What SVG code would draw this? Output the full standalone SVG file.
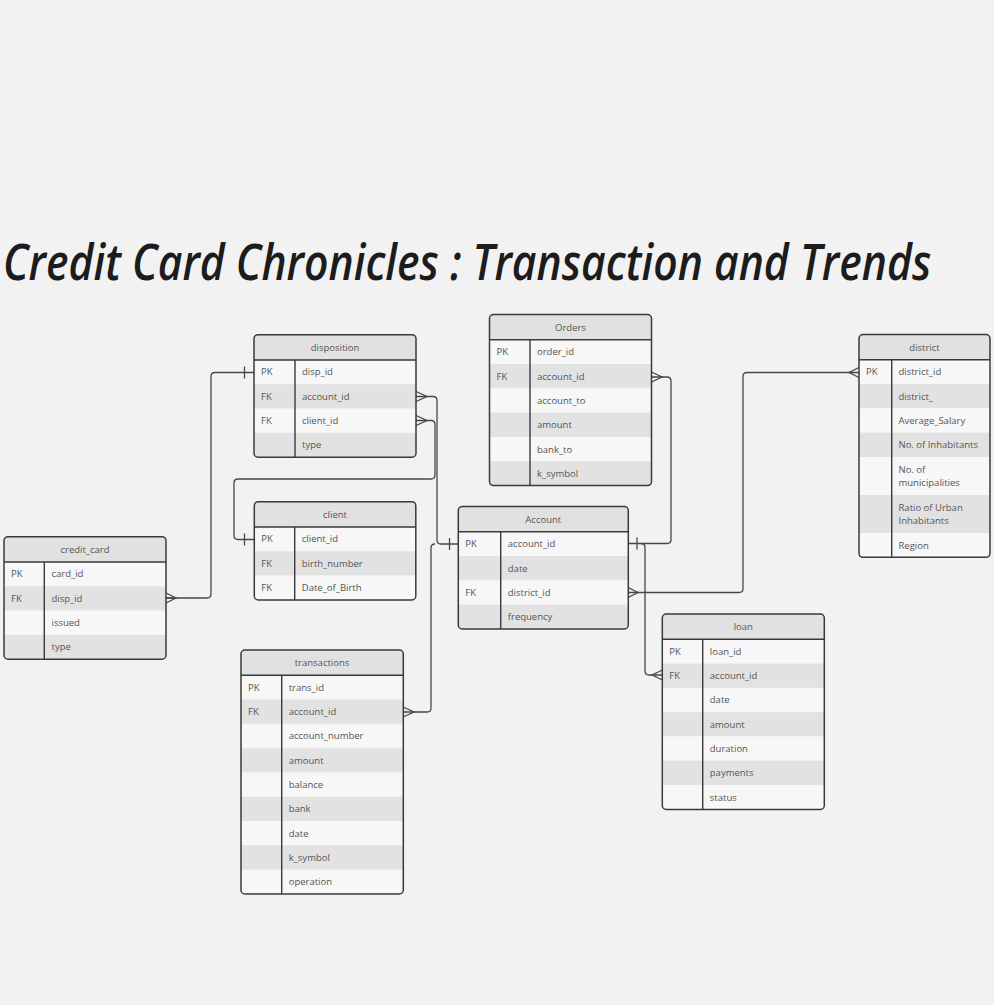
<svg xmlns="http://www.w3.org/2000/svg" width="994" height="1005" viewBox="0 0 994 1005">
<style>
.hd{fill:#e1e1e1}
.r1{fill:#f7f7f7}
.r2{fill:#e2e2e2}
.bd{fill:none;stroke:#3a3a3a;stroke-width:1.5}
.ln{stroke:#3a3a3a;stroke-width:1.4;fill:none}
.t{font-family:"Open Sans",sans-serif;font-size:9.5px;fill:#555}
.h{font-family:"Open Sans",sans-serif;font-size:9.5px;fill:#555;text-anchor:middle}
.c{fill:none;stroke:#474747;stroke-width:1.3}
.title{font-family:"Open Sans",sans-serif;font-style:italic;font-weight:600;font-size:50px;fill:#1c1c1c}
</style>
<defs>
<clipPath id="k1" clipPathUnits="userSpaceOnUse"><rect x="0" y="0" width="162" height="122.5" rx="4"/></clipPath>
<clipPath id="k2" clipPathUnits="userSpaceOnUse"><rect x="0" y="0" width="162" height="171.1" rx="4"/></clipPath>
<clipPath id="k3" clipPathUnits="userSpaceOnUse"><rect x="0" y="0" width="131" height="222.8" rx="4"/></clipPath>
<clipPath id="k4" clipPathUnits="userSpaceOnUse"><rect x="0" y="0" width="161.5" height="98.2" rx="4"/></clipPath>
<clipPath id="k5" clipPathUnits="userSpaceOnUse"><rect x="0" y="0" width="170" height="122.5" rx="4"/></clipPath>
<clipPath id="k6" clipPathUnits="userSpaceOnUse"><rect x="0" y="0" width="162.3" height="244" rx="4"/></clipPath>
<clipPath id="k7" clipPathUnits="userSpaceOnUse"><rect x="0" y="0" width="162" height="195.4" rx="4"/></clipPath>
</defs>
<rect x="0" y="0" width="994" height="1005" fill="#f2f2f2"/>
<text class="title" transform="translate(3,280) scale(0.78,1)" x="0" y="0" textLength="1190" lengthAdjust="spacingAndGlyphs">Credit Card Chronicles : Transaction and Trends</text>

<g id="connectors">
<path class="c" d="M254,372.5 H215 Q211,372.5 211,376.5 V594 Q211,598 207,598 H166"/>
<path class="c" d="M244.5,366.5 V378.5"/>
<path class="c" d="M166,593 L176,598 L166,603 M166,598 H176"/>

<path class="c" d="M416,396.5 H433 Q437,396.5 437,400.5 V540 Q437,544 441,544 H458"/>
<path class="c" d="M416,391.5 L427,396.5 L416,401.5"/>

<path class="c" d="M416,420.5 H431 Q435,420.5 435,424.5 V475 Q435,479 431,479 H238 Q234,479 234,483 V535.5 Q234,539.5 238,539.5 H254"/>
<path class="c" d="M416,415.5 L427,420.5 L416,425.5"/>
<path class="c" d="M244.5,533.5 V545.5"/>

<path class="c" d="M403,712 H427 Q431,712 431,708 V548 Q431,544 435,544"/>
<path class="c" d="M403,707 L414,712 L403,717"/>
<path class="c" d="M449.5,538 V550"/>

<path class="c" d="M651.5,377 H667 Q671,377 671,381 V539.5 Q671,543.5 667,543.5 H628"/>
<path class="c" d="M651.5,372 L662,377 L651.5,382"/>
<path class="c" d="M637,537.5 V549.5"/>

<path class="c" d="M641,543.5 Q645,543.5 645,547.5 V671 Q645,675 649,675 H662.5"/>
<path class="c" d="M662.5,670 L652,675 L662.5,680"/>

<path class="c" d="M628,592.5 H739 Q743,592.5 743,588.5 V376.5 Q743,372.5 747,372.5 H859"/>
<path class="c" d="M628,587.5 L638,592.5 L628,597.5"/>
<path class="c" d="M859,367.5 L849,372.5 L859,377.5"/>
</g>

<g id="disposition" transform="translate(254,334.7)">
<g clip-path="url(#k1)">
<rect class="hd" x="0" y="0" width="162" height="25.3"/>
<rect class="r1" x="0" y="25.3" width="162" height="24.3"/>
<rect class="r2" x="0" y="49.6" width="162" height="24.3"/>
<rect class="r1" x="0" y="73.9" width="162" height="24.3"/>
<rect class="r2" x="0" y="98.2" width="162" height="24.3"/>
</g>
<path class="ln" d="M0,25.3 H162 M41,25.3 V122.5"/>
<rect class="bd" x="0" y="0" width="162" height="122.5" rx="4"/>
<text class="h" x="81" y="16">disposition</text>
<text class="t" x="7" y="40.8">PK</text><text class="t" x="48" y="40.8">disp_id</text>
<text class="t" x="7" y="65.1">FK</text><text class="t" x="48" y="65.1">account_id</text>
<text class="t" x="7" y="89.4">FK</text><text class="t" x="48" y="89.4">client_id</text>
<text class="t" x="48" y="113.7">type</text>
</g>

<g id="orders" transform="translate(489.5,314.5)">
<g clip-path="url(#k2)">
<rect class="hd" x="0" y="0" width="162" height="25.3"/>
<rect class="r1" x="0" y="25.3" width="162" height="24.3"/>
<rect class="r2" x="0" y="49.6" width="162" height="24.3"/>
<rect class="r1" x="0" y="73.9" width="162" height="24.3"/>
<rect class="r2" x="0" y="98.2" width="162" height="24.3"/>
<rect class="r1" x="0" y="122.5" width="162" height="24.3"/>
<rect class="r2" x="0" y="146.8" width="162" height="24.3"/>
</g>
<path class="ln" d="M0,25.3 H162 M40.5,25.3 V171.1"/>
<rect class="bd" x="0" y="0" width="162" height="171.1" rx="4"/>
<text class="h" x="81" y="16">Orders</text>
<text class="t" x="7" y="40.8">PK</text><text class="t" x="47.5" y="40.8">order_id</text>
<text class="t" x="7" y="65.1">FK</text><text class="t" x="47.5" y="65.1">account_id</text>
<text class="t" x="47.5" y="89.4">account_to</text>
<text class="t" x="47.5" y="113.7">amount</text>
<text class="t" x="47.5" y="138">bank_to</text>
<text class="t" x="47.5" y="162.3">k_symbol</text>
</g>

<g id="district" transform="translate(859,334.5)">
<g clip-path="url(#k3)">
<rect class="hd" x="0" y="0" width="131" height="25.3"/>
<rect class="r1" x="0" y="25.3" width="131" height="24.3"/>
<rect class="r2" x="0" y="49.6" width="131" height="24.3"/>
<rect class="r1" x="0" y="73.9" width="131" height="24.3"/>
<rect class="r2" x="0" y="98.2" width="131" height="24.3"/>
<rect class="r1" x="0" y="122.5" width="131" height="38"/>
<rect class="r2" x="0" y="160.5" width="131" height="38"/>
<rect class="r1" x="0" y="198.5" width="131" height="24.3"/>
</g>
<path class="ln" d="M0,25.3 H131 M32.7,25.3 V222.8"/>
<rect class="bd" x="0" y="0" width="131" height="222.8" rx="4"/>
<text class="h" x="65.5" y="16">district</text>
<text class="t" x="7" y="40.8">PK</text><text class="t" x="39.5" y="40.8">district_id</text>
<text class="t" x="39.5" y="65.1">district_</text>
<text class="t" x="39.5" y="89.4">Average_Salary</text>
<text class="t" x="39.5" y="113.7">No. of Inhabitants</text>
<text class="t" x="39.5" y="138.4">No. of</text>
<text class="t" x="39.5" y="151.4">municipalities</text>
<text class="t" x="39.5" y="176.4">Ratio of Urban</text>
<text class="t" x="39.5" y="189.4">Inhabitants</text>
<text class="t" x="39.5" y="214">Region</text>
</g>

<g id="credit_card" transform="translate(4,536.7)">
<g clip-path="url(#k1)">
<rect class="hd" x="0" y="0" width="162" height="25.3"/>
<rect class="r1" x="0" y="25.3" width="162" height="24.3"/>
<rect class="r2" x="0" y="49.6" width="162" height="24.3"/>
<rect class="r1" x="0" y="73.9" width="162" height="24.3"/>
<rect class="r2" x="0" y="98.2" width="162" height="24.3"/>
</g>
<path class="ln" d="M0,25.3 H162 M40.3,25.3 V122.5"/>
<rect class="bd" x="0" y="0" width="162" height="122.5" rx="4"/>
<text class="h" x="81" y="16">credit_card</text>
<text class="t" x="7" y="40.8">PK</text><text class="t" x="47.5" y="40.8">card_id</text>
<text class="t" x="7" y="65.1">FK</text><text class="t" x="47.5" y="65.1">disp_id</text>
<text class="t" x="47.5" y="89.4">issued</text>
<text class="t" x="47.5" y="113.7">type</text>
</g>

<g id="client" transform="translate(254.3,501.7)">
<g clip-path="url(#k4)">
<rect class="hd" x="0" y="0" width="161.5" height="25.3"/>
<rect class="r1" x="0" y="25.3" width="161.5" height="24.3"/>
<rect class="r2" x="0" y="49.6" width="161.5" height="24.3"/>
<rect class="r1" x="0" y="73.9" width="161.5" height="24.3"/>
</g>
<path class="ln" d="M0,25.3 H161.5 M40.4,25.3 V98.2"/>
<rect class="bd" x="0" y="0" width="161.5" height="98.2" rx="4"/>
<text class="h" x="80.7" y="16">client</text>
<text class="t" x="7" y="40.8">PK</text><text class="t" x="47.5" y="40.8">client_id</text>
<text class="t" x="7" y="65.1">FK</text><text class="t" x="47.5" y="65.1">birth_number</text>
<text class="t" x="7" y="89.4">FK</text><text class="t" x="47.5" y="89.4">Date_of_Birth</text>
</g>

<g id="account" transform="translate(458.3,506.5)">
<g clip-path="url(#k5)">
<rect class="hd" x="0" y="0" width="170" height="25.3"/>
<rect class="r1" x="0" y="25.3" width="170" height="24.3"/>
<rect class="r2" x="0" y="49.6" width="170" height="24.3"/>
<rect class="r1" x="0" y="73.9" width="170" height="24.3"/>
<rect class="r2" x="0" y="98.2" width="170" height="24.3"/>
</g>
<path class="ln" d="M0,25.3 H170 M42.4,25.3 V122.5"/>
<rect class="bd" x="0" y="0" width="170" height="122.5" rx="4"/>
<text class="h" x="85" y="16">Account</text>
<text class="t" x="7" y="40.8">PK</text><text class="t" x="49.5" y="40.8">account_id</text>
<text class="t" x="49.5" y="65.1">date</text>
<text class="t" x="7" y="89.4">FK</text><text class="t" x="49.5" y="89.4">district_id</text>
<text class="t" x="49.5" y="113.7">frequency</text>
</g>

<g id="transactions" transform="translate(241,650)">
<g clip-path="url(#k6)">
<rect class="hd" x="0" y="0" width="162.3" height="25.3"/>
<rect class="r1" x="0" y="25.3" width="162.3" height="24.3"/>
<rect class="r2" x="0" y="49.6" width="162.3" height="24.3"/>
<rect class="r1" x="0" y="73.9" width="162.3" height="24.3"/>
<rect class="r2" x="0" y="98.2" width="162.3" height="24.3"/>
<rect class="r1" x="0" y="122.5" width="162.3" height="24.3"/>
<rect class="r2" x="0" y="146.8" width="162.3" height="24.3"/>
<rect class="r1" x="0" y="171.1" width="162.3" height="24.3"/>
<rect class="r2" x="0" y="195.4" width="162.3" height="24.3"/>
<rect class="r1" x="0" y="219.7" width="162.3" height="24.3"/>
</g>
<path class="ln" d="M0,25.3 H162.3 M40.7,25.3 V244"/>
<rect class="bd" x="0" y="0" width="162.3" height="244" rx="4"/>
<text class="h" x="81" y="16">transactions</text>
<text class="t" x="7" y="40.8">PK</text><text class="t" x="47.7" y="40.8">trans_id</text>
<text class="t" x="7" y="65.1">FK</text><text class="t" x="47.7" y="65.1">account_id</text>
<text class="t" x="47.7" y="89.4">account_number</text>
<text class="t" x="47.7" y="113.7">amount</text>
<text class="t" x="47.7" y="138">balance</text>
<text class="t" x="47.7" y="162.3">bank</text>
<text class="t" x="47.7" y="186.6">date</text>
<text class="t" x="47.7" y="210.9">k_symbol</text>
<text class="t" x="47.7" y="235.2">operation</text>
</g>

<g id="loan" transform="translate(662.3,614)">
<g clip-path="url(#k7)">
<rect class="hd" x="0" y="0" width="162" height="25.3"/>
<rect class="r1" x="0" y="25.3" width="162" height="24.3"/>
<rect class="r2" x="0" y="49.6" width="162" height="24.3"/>
<rect class="r1" x="0" y="73.9" width="162" height="24.3"/>
<rect class="r2" x="0" y="98.2" width="162" height="24.3"/>
<rect class="r1" x="0" y="122.5" width="162" height="24.3"/>
<rect class="r2" x="0" y="146.8" width="162" height="24.3"/>
<rect class="r1" x="0" y="171.1" width="162" height="24.3"/>
</g>
<path class="ln" d="M0,25.3 H162 M40.4,25.3 V195.4"/>
<rect class="bd" x="0" y="0" width="162" height="195.4" rx="4"/>
<text class="h" x="81" y="16">loan</text>
<text class="t" x="7" y="40.8">PK</text><text class="t" x="47.5" y="40.8">loan_id</text>
<text class="t" x="7" y="65.1">FK</text><text class="t" x="47.5" y="65.1">account_id</text>
<text class="t" x="47.5" y="89.4">date</text>
<text class="t" x="47.5" y="113.7">amount</text>
<text class="t" x="47.5" y="138">duration</text>
<text class="t" x="47.5" y="162.3">payments</text>
<text class="t" x="47.5" y="186.6">status</text>
</g>
</svg>
